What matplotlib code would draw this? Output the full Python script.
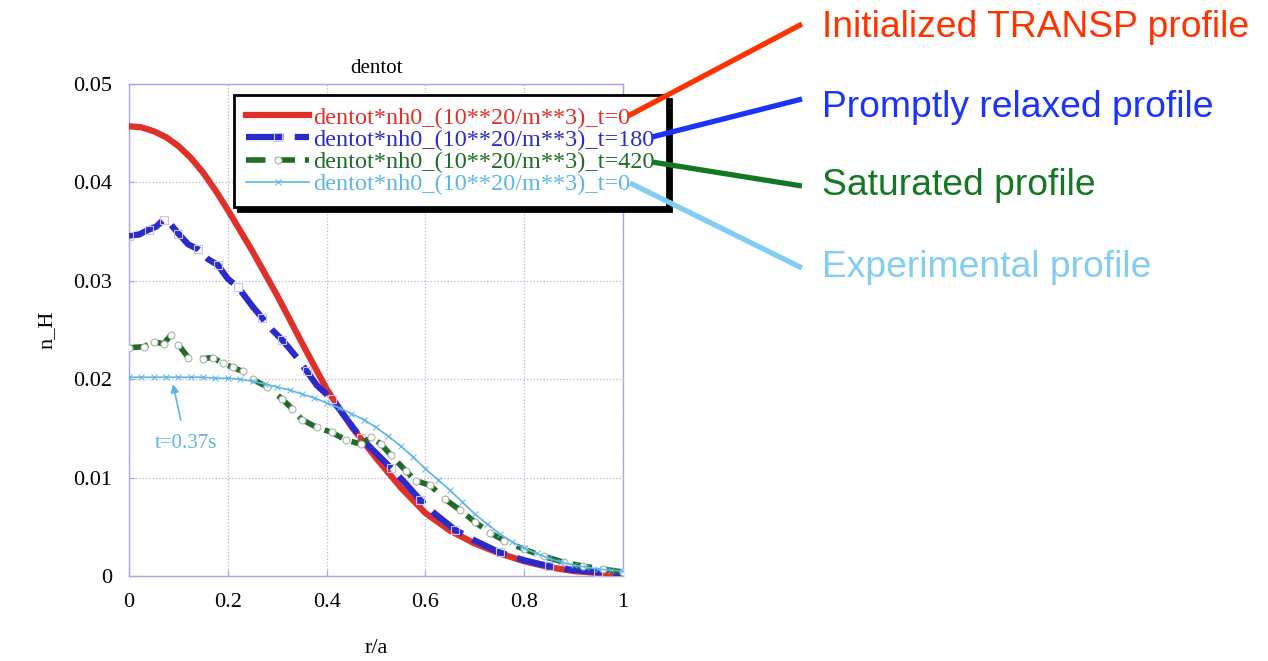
import numpy as np
import matplotlib
matplotlib.use("Agg")
import matplotlib.pyplot as plt
from matplotlib.lines import Line2D

plt.rcParams['font.family'] = ['Liberation Serif', 'DejaVu Serif']

# density profiles n_H(r/a), units 10**20 m**-3
r_init = [0.0, 0.025, 0.05, 0.075, 0.1, 0.125, 0.15, 0.175, 0.2, 0.25, 0.3, 0.35, 0.4, 0.45,
          0.5, 0.55, 0.6, 0.65, 0.7, 0.75, 0.8, 0.85, 0.9, 0.95, 1.0]
n_init = [0.0457, 0.0456, 0.0452, 0.0446, 0.0437, 0.0425, 0.0410, 0.0392, 0.0372, 0.0330,
          0.0285, 0.0237, 0.0190, 0.0152, 0.0120, 0.0090, 0.0064, 0.0046, 0.0033, 0.0023,
          0.0015, 0.0009, 0.0005, 0.0003, 0.0002]

r_t180 = [0.0, 0.02, 0.04, 0.055, 0.07, 0.08, 0.1, 0.12, 0.14, 0.16, 0.18, 0.2, 0.22, 0.25,
          0.27, 0.29, 0.31, 0.34, 0.36, 0.38, 0.41, 0.44, 0.47, 0.5, 0.53, 0.56, 0.59, 0.62,
          0.66, 0.7, 0.75, 0.8, 0.85, 0.9, 0.95, 1.0]
n_t180 = [0.0346, 0.0347, 0.0352, 0.0355, 0.0362, 0.0360, 0.0348, 0.0337, 0.0332, 0.0322,
          0.0316, 0.0302, 0.0294, 0.0274, 0.0262, 0.0250, 0.0240, 0.0222, 0.0208, 0.0194,
          0.0180, 0.0160, 0.0140, 0.0125, 0.0110, 0.0094, 0.0077, 0.0063, 0.0047, 0.0036,
          0.0024, 0.0016, 0.0010, 0.0006, 0.0004, 0.0003]

r_t420 = [0.0, 0.03, 0.05, 0.07, 0.085, 0.1, 0.12, 0.15, 0.17, 0.19, 0.21, 0.23, 0.25, 0.28,
          0.31, 0.33, 0.35, 0.38, 0.41, 0.44, 0.47, 0.49, 0.51, 0.53, 0.56, 0.58, 0.61, 0.64,
          0.67, 0.7, 0.73, 0.76, 0.8, 0.84, 0.88, 0.92, 0.96, 1.0]
n_t420 = [0.0232, 0.0233, 0.0238, 0.0236, 0.0245, 0.0235, 0.0222, 0.0221, 0.0222, 0.0216,
          0.0212, 0.0208, 0.0200, 0.0192, 0.0180, 0.0170, 0.0159, 0.0151, 0.0146, 0.0138,
          0.0134, 0.0141, 0.0134, 0.0123, 0.0107, 0.0097, 0.0092, 0.0078, 0.0067, 0.0055,
          0.0044, 0.0036, 0.0027, 0.0020, 0.0014, 0.0010, 0.0007, 0.0004]

r_exp = [0.0, 0.025, 0.05, 0.075, 0.1, 0.125, 0.15, 0.175, 0.2, 0.225, 0.25, 0.275, 0.3,
         0.325, 0.35, 0.375, 0.4, 0.425, 0.45, 0.475, 0.5, 0.525, 0.55, 0.575, 0.6, 0.625,
         0.65, 0.675, 0.7, 0.725, 0.75, 0.775, 0.8, 0.825, 0.85, 0.875, 0.9, 0.925, 0.95,
         0.975, 1.0]
n_exp = [0.0202, 0.0202, 0.0202, 0.0202, 0.0202, 0.0202, 0.0202, 0.0201, 0.0201, 0.0200,
         0.0198, 0.0195, 0.0192, 0.0189, 0.0185, 0.0181, 0.0176, 0.0171, 0.0165, 0.0159,
         0.0151, 0.0142, 0.0132, 0.0121, 0.0109, 0.0098, 0.0087, 0.0075, 0.0063, 0.0053,
         0.0043, 0.0035, 0.0028, 0.0023, 0.0018, 0.0014, 0.0011, 0.0009, 0.0007, 0.0006,
         0.0005]

labels = ['dentot*nh0_(10**20/m**3)_t=0', 'dentot*nh0_(10**20/m**3)_t=180',
          'dentot*nh0_(10**20/m**3)_t=420', 'dentot*nh0_(10**20/m**3)_t=0']
notes = ['Initialized TRANSP profile', 'Promptly relaxed profile',
         'Saturated profile', 'Experimental profile']

c_red, c_blue, c_green, c_cyan = '#e0302a', '#2b2bcc', '#1f6b28', '#5db6e6'
note_colors = ['#ff3300', '#1a33ff', '#147822', '#82cdf2']

W, H = 1268, 661
fig = plt.figure(figsize=(W / 100, H / 100), dpi=100)
ax = fig.add_axes([129 / W, 85 / H, 494 / W, 492 / H])

ax.plot(r_init, n_init, color=c_red, lw=4.5, marker='o', ms=0, label=labels[0], zorder=3)
ax.plot(r_t180, n_t180, color=c_blue, lw=4.5, ls=(0, (6, 1.8)), marker='s', ms=6,
        markevery=2, mfc='none', mec='#c4c4f2', mew=0.8, label=labels[1], zorder=4)
ax.plot(r_t420, n_t420, color=c_green, lw=4.0, ls=(0, (3.5, 1.8)), marker='o', ms=5,
        mfc='white', mec='#a8b4a8', mew=0.8, label=labels[2], zorder=5)
ax.plot(r_exp, n_exp, color=c_cyan, lw=1.2, marker='x', ms=5, mew=0.7,
        label=labels[3], zorder=6)

ax.annotate('t=0.37s', xy=(0.089, 0.0195), xytext=(0.115, 0.0135),
            ha='center', va='center', color=c_cyan, fontsize=15,
            arrowprops=dict(arrowstyle='-|>', color=c_cyan, lw=1.2, mutation_scale=12,
                            shrinkB=0, shrinkA=8))

ax.set_xlim(0, 1)
ax.set_ylim(0, 0.05)
ax.set_xticks([0, 0.2, 0.4, 0.6, 0.8, 1.0])
ax.set_xticklabels(['0', '0.2', '0.4', '0.6', '0.8', '1'])
ax.set_yticks([0, 0.01, 0.02, 0.03, 0.04, 0.05])
ax.set_yticklabels(['0', '0.01', '0.02', '0.03', '0.04', '0.05'])
ax.tick_params(direction='in', length=4, color='#a8a8e0', labelsize=16, pad=12)
for s in ax.spines.values():
    s.set_color('#a8a8e0')
    s.set_linewidth(1.0)
ax.grid(True, ls=':', color='#b4b4dc', lw=0.9)

ax.set_title('dentot', fontsize=15, pad=8)
ax.set_xlabel('r/a', fontsize=16, labelpad=20)
ax.set_ylabel('n_H', fontsize=16, labelpad=12)

leg = ax.legend(loc='upper left', bbox_to_anchor=(0.2126, 0.978), borderaxespad=0,
                fontsize=17.5, labelcolor='linecolor', fancybox=False,
                edgecolor='black', framealpha=1, handlelength=2.6, handletextpad=0.15,
                labelspacing=0.0, borderpad=0.5,
                shadow={'color': 'black', 'alpha': 1.0, 'ox': 3, 'oy': -3})
leg.get_frame().set_linewidth(2.0)
leg.set_zorder(10)

# labels on the right, tied to the legend entries
note_y = [37, 117, 195, 277]
link_from = [(628, 116), (652, 137), (652, 162), (630, 183)]
link_to = [(802, 24), (802, 99), (802, 186), (802, 268)]
for txt, col, y, p0, p1 in zip(notes, note_colors, note_y, link_from, link_to):
    fig.text(822 / W, 1 - y / H, txt, color=col, fontsize=26.8,
             family=['Liberation Sans', 'DejaVu Sans'], va='baseline', ha='left')
    fig.add_artist(Line2D([p0[0] / W, p1[0] / W], [1 - p0[1] / H, 1 - p1[1] / H],
                          transform=fig.transFigure, color=col, lw=3.8,
                          solid_capstyle='butt', zorder=20))

fig.savefig('out.png', dpi=100)
